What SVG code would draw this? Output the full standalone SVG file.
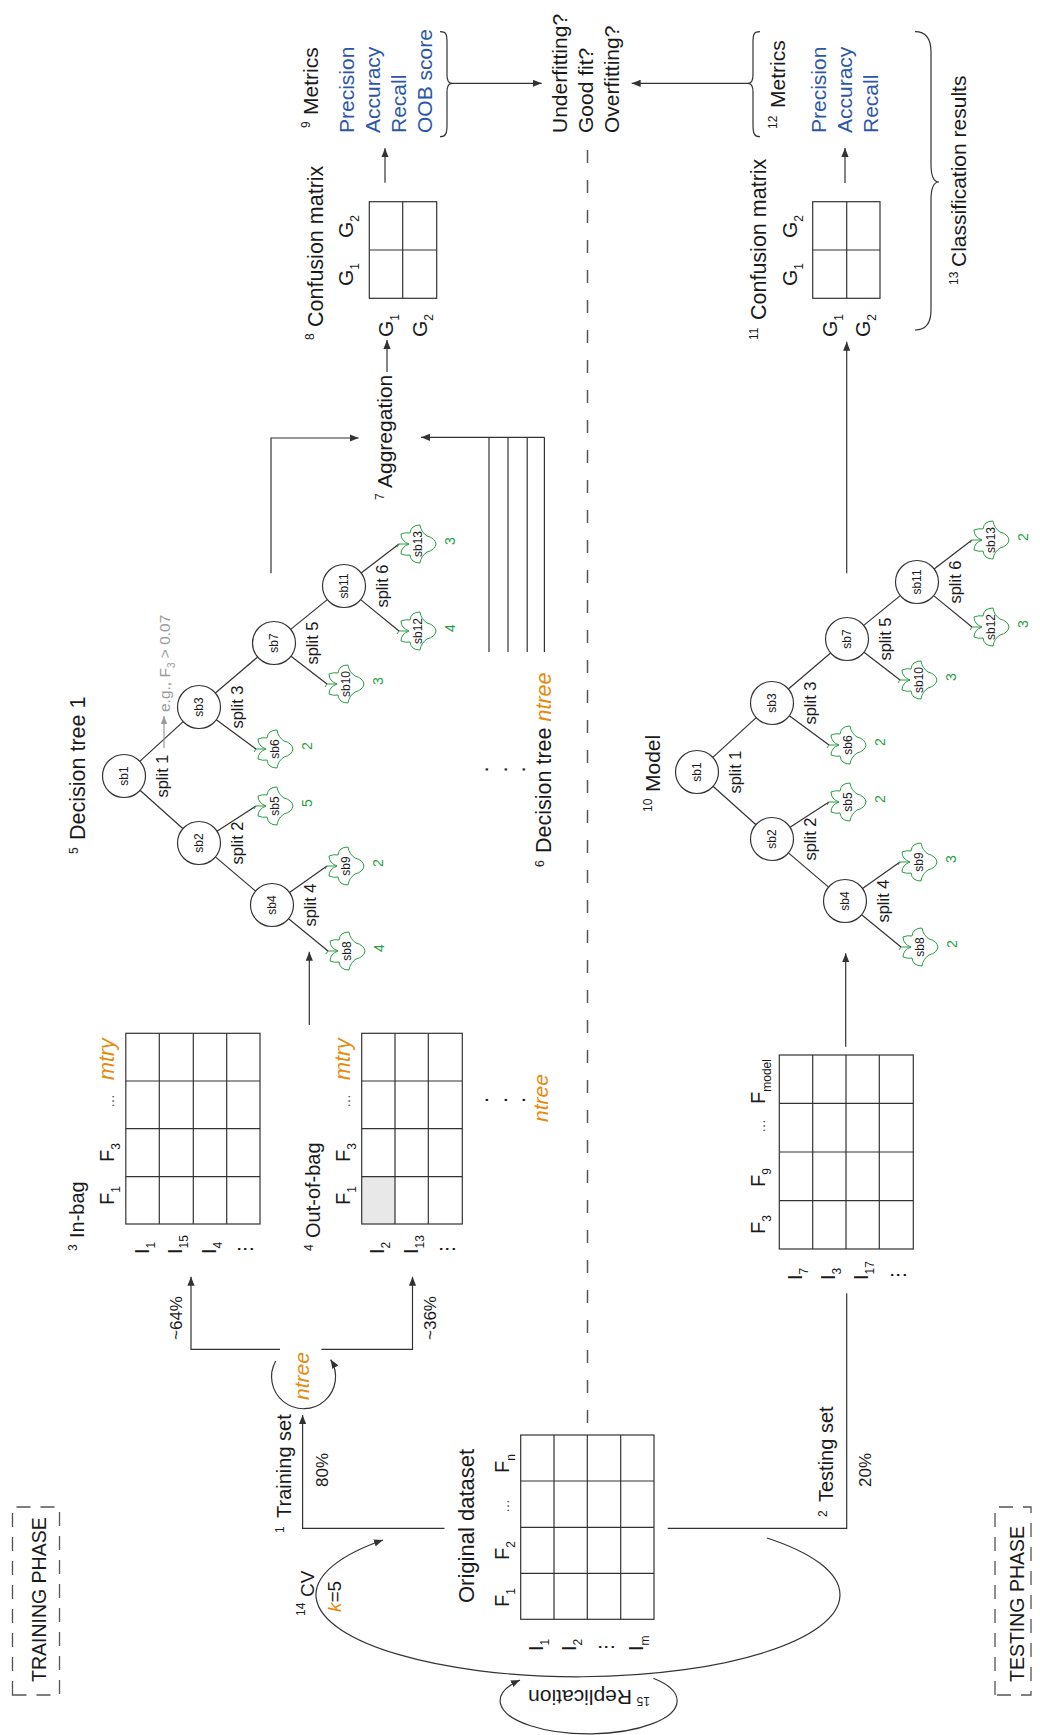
<svg xmlns="http://www.w3.org/2000/svg" width="1040" height="1735" viewBox="0 0 1040 1735">
<defs>
<style>
text { font-family: "Liberation Sans", Arial, "DejaVu Sans", sans-serif; fill: #1a1a1a; }
.f21 { font-size: 21px; }
.f20 { font-size: 20px; }
.f17 { font-size: 17px; }
.sp { font-size: 16.5px; text-anchor: middle; }
.sup { font-size: 12px; }
.sub { font-size: 12px; }
.sb { font-size: 12px; text-anchor: middle; }
.cnt { font-size: 14px; fill: #2a9d45; text-anchor: middle; }
.blue { fill: #2c56a8; }
.or { fill: #e68a0c; font-style: italic; }
.gray { fill: #9a9a9a; }
.ln { fill: none; stroke: #333; stroke-width: 1.2; }
.lng { fill: none; stroke: #9a9a9a; stroke-width: 1.2; }
.node { fill: #fff; stroke: #333; stroke-width: 1.2; }
.leaf { fill: #fff; stroke: #2a9d45; stroke-width: 1; stroke-linejoin: round; }
.grid { fill: none; stroke: #333; stroke-width: 1.2; }
.dash { fill: none; stroke: #555; stroke-width: 1.5; stroke-dasharray: 13 17; }
.box { fill: none; stroke: #555; stroke-width: 1.3; stroke-dasharray: 14 10; }
.dots { font-family: "DejaVu Sans", sans-serif; }
.el { font-size: 14px; fill: #555; }
.dot { font-size: 22px; text-anchor: middle; }
</style>
<marker id="ah" viewBox="0 0 10 8" refX="10" refY="4" markerWidth="9" markerHeight="7.2" markerUnits="userSpaceOnUse" orient="auto"><path d="M0,0 L10,4 L0,8 z" fill="#333"/></marker>
<marker id="ahg" viewBox="0 0 10 8" refX="10" refY="4" markerWidth="8" markerHeight="6.4" markerUnits="userSpaceOnUse" orient="auto"><path d="M0,0 L10,4 L0,8 z" fill="#9a9a9a"/></marker>
<path id="leaf" d="M0,-9 Q-3,-17 -10,-17 Q-12,-12 -11,-8 Q-19,-7 -19,2 Q-12,3 -8,9 Q-6,17 0,18 Q6,17 8,9 Q12,3 19,2 Q19,-7 11,-8 Q12,-12 10,-17 Q3,-17 0,-9 Z M0,-9 L0,-19 M0,-19 L-3,-21"/>
</defs>
<rect width="1040" height="1735" fill="#fff"/>
<g transform="translate(0,1735) rotate(-90)">

<g id="training-phase">
<rect x="40" y="12.5" width="188" height="47" class="box"/>
<text x="53" y="46" font-size="19.5">TRAINING PHASE</text>
</g>
<g id="testing-phase">
<rect x="40" y="995" width="188" height="36" class="box"/>
<text x="53" y="1024" font-size="19.5">TESTING PHASE</text>
</g>

<g id="original-dataset">
<text x="132" y="474" font-size="22">Original dataset</text>
<text class="f20" x="128" y="509">F<tspan class="sub" dy="6">1</tspan></text>
<text class="f20" x="175" y="509">F<tspan class="sub" dy="6">2</tspan></text>
<text class="el" x="222" y="509">…</text>
<text class="f20" x="262" y="509">F<tspan class="sub" dy="6">n</tspan></text>
<rect x="115.7" y="520.7" width="184.3" height="133.3" class="grid"/>
<path class="grid" d="M161.7,520.7 V654 M207.7,520.7 V654 M254,520.7 V654 M115.7,554 H300 M115.7,587.3 H300 M115.7,620.7 H300"/>
<text class="f20" x="84" y="543">I<tspan class="sub" dy="6">1</tspan></text>
<text class="f20" x="84" y="576">I<tspan class="sub" dy="6">2</tspan></text>
<text class="dots" font-size="18" x="88" y="611.5" text-anchor="middle">⋮</text>
<text class="f20" x="84" y="643">I<tspan class="sub" dy="6">m</tspan></text>
</g>

<g id="training-set">
<text class="sup" x="202" y="284">1</text>
<text class="f20" x="217" y="291">Training set</text>
<text class="f17" x="248" y="328">80%</text>
</g>
<g id="testing-set">
<text class="sup" x="218" y="827">2</text>
<text class="f20" x="233" y="833">Testing set</text>
<text class="f17" x="248" y="871">20%</text>
</g>

<g id="cv">
<text class="sup" x="119" y="305">14</text>
<text font-size="19" x="138" y="313.5">CV</text>
<text font-size="19" x="123" y="341"><tspan class="or">k</tspan>=5</text>
</g>

<g id="bootstrap">
<text class="or" font-size="21" x="335" y="309">ntree</text>
<text class="f17" x="395" y="182">~64%</text>
<text class="f17" x="395" y="436">~36%</text>
</g>

<g id="in-bag">
<text class="sup" x="484" y="77">3</text>
<text class="f20" x="497" y="84">In-bag</text>
<text class="f20" x="530" y="114">F<tspan class="sub" dy="6">1</tspan></text>
<text class="f20" x="573" y="114">F<tspan class="sub" dy="6">3</tspan></text>
<text class="el" x="627" y="114">…</text>
<text class="or" font-size="21.5" x="655" y="114">mtry</text>
<rect x="511" y="125.8" width="190.7" height="134.2" class="grid"/>
<path class="grid" d="M558.3,125.8 V260 M606.3,125.8 V260 M654,125.8 V260 M511,159.3 H701.7 M511,193.3 H701.7 M511,226.7 H701.7"/>
<text class="f20" x="481" y="148.5">I<tspan class="sub" dy="6">1</tspan></text>
<text class="f20" x="481" y="182">I<tspan class="sub" dy="6">15</tspan></text>
<text class="f20" x="481" y="215.5">I<tspan class="sub" dy="6">4</tspan></text>
<text class="dots" font-size="18" x="486" y="251" text-anchor="middle">⋮</text>
</g>

<g id="out-of-bag">
<text class="sup" x="484" y="313">4</text>
<text class="f20" x="497" y="320">Out-of-bag</text>
<text class="f20" x="530" y="350">F<tspan class="sub" dy="6">1</tspan></text>
<text class="f20" x="573" y="350">F<tspan class="sub" dy="6">3</tspan></text>
<text class="el" x="627" y="350">…</text>
<text class="or" font-size="21.5" x="655" y="350">mtry</text>
<rect x="511" y="361.7" width="47.3" height="33.3" fill="#e8e8e8"/>
<rect x="511" y="361.7" width="190.7" height="100.6" class="grid"/>
<path class="grid" d="M558.3,361.7 V462.3 M606.3,361.7 V462.3 M654,361.7 V462.3 M511,395 H701.7 M511,428.3 H701.7"/>
<text class="f20" x="481" y="384">I<tspan class="sub" dy="6">2</tspan></text>
<text class="f20" x="481" y="417.5">I<tspan class="sub" dy="6">13</tspan></text>
<text class="dots" font-size="18" x="486" y="453" text-anchor="middle">⋮</text>
</g>

<g id="more-samples">
<text class="dot" x="635" y="488">.</text>
<text class="dot" x="635" y="506.5">.</text>
<text class="dot" x="635" y="525">.</text>
<text class="or" font-size="21" x="613" y="548">ntree</text>
</g>

<g id="tree1">
<text class="sup" x="881" y="78">5</text>
<text font-size="21.5" x="895" y="85">Decision tree 1</text>
<g id="t1-edges" class="ln">
<path d="M944.7,140 L906.3,183 M973.6,139.8 L1013.4,183.2 M878.1,215.4 L843.9,255.6 M1042,215.4 L1078,257.6 M1105.6,290.7 L1135.4,327.3"/>
<path d="M903.7,217 L929,256 M1015.3,216.3 L986,256 M816.3,288.6 L784,328 M842.4,289.5 L869,327 M1078.8,291 L1051,327 M1135.4,360.6 L1104,399 M1162.1,361.1 L1191,399"/>
</g>
<g id="t1-sb1"><circle cx="959" cy="124" r="21.5" class="node"/><text class="sb" x="959" y="128">sb1</text></g>
<g id="t1-sb2"><circle cx="892" cy="199" r="21.5" class="node"/><text class="sb" x="892" y="203">sb2</text></g>
<g id="t1-sb3"><circle cx="1028" cy="199" r="21.5" class="node"/><text class="sb" x="1028" y="203">sb3</text></g>
<g id="t1-sb4"><circle cx="830" cy="272" r="21.5" class="node"/><text class="sb" x="830" y="276">sb4</text></g>
<g id="t1-sb7"><circle cx="1092" cy="274" r="21.5" class="node"/><text class="sb" x="1092" y="278">sb7</text></g>
<g id="t1-sb11"><circle cx="1149" cy="344" r="21.5" class="node"/><text class="sb" x="1149" y="348">sb11</text></g>
<g id="t1-sb5" transform="translate(929,275)"><use href="#leaf" class="leaf"/><text class="sb" y="4">sb5</text><text class="cnt" x="3" y="37">5</text></g>
<g id="t1-sb6" transform="translate(986,275)"><use href="#leaf" class="leaf"/><text class="sb" y="4">sb6</text><text class="cnt" x="3" y="37">2</text></g>
<g id="t1-sb8" transform="translate(784,347)"><use href="#leaf" class="leaf"/><text class="sb" y="4">sb8</text><text class="cnt" x="3" y="37">4</text></g>
<g id="t1-sb9" transform="translate(869,346)"><use href="#leaf" class="leaf"/><text class="sb" y="4">sb9</text><text class="cnt" x="3" y="37">2</text></g>
<g id="t1-sb10" transform="translate(1051,346)"><use href="#leaf" class="leaf"/><text class="sb" y="4">sb10</text><text class="cnt" x="3" y="37">3</text></g>
<g id="t1-sb12" transform="translate(1104,418)"><use href="#leaf" class="leaf"/><text class="sb" y="4">sb12</text><text class="cnt" x="3" y="37">4</text></g>
<g id="t1-sb13" transform="translate(1191,418)"><use href="#leaf" class="leaf"/><text class="sb" y="4">sb13</text><text class="cnt" x="3" y="37">3</text></g>
<g id="t1-splits">
<text class="sp" x="959" y="168">split 1</text>
<text class="sp" x="892" y="243">split 2</text>
<text class="sp" x="1028" y="243">split 3</text>
<text class="sp" x="830" y="316">split 4</text>
<text class="sp" x="1092" y="318">split 5</text>
<text class="sp" x="1149" y="388">split 6</text>
</g>
<g id="t1-example">
<path class="lng" d="M987,164 L1019,164" marker-end="url(#ahg)"/>
<text class="gray" font-size="15.5" x="1023" y="169.5">e.g., F<tspan font-size="10" dy="5">3</tspan><tspan dy="-5"> &gt; 0.07</tspan></text>
</g>
</g>

<g id="more-trees">
<text class="dot" x="965.7" y="488">.</text>
<text class="dot" x="965.7" y="506.5">.</text>
<text class="dot" x="965.7" y="525">.</text>
</g>
<g id="tree-ntree">
<text class="sup" x="868" y="544">6</text>
<text font-size="21.5" x="882" y="551">Decision tree <tspan class="or">ntree</tspan></text>
</g>

<g id="aggregation">
<text class="sup" x="1235" y="384">7</text>
<text class="f21" x="1247" y="391.5">Aggregation</text>
</g>

<g id="cm1">
<text class="sup" x="1395" y="314">8</text>
<text font-size="21.5" x="1408" y="322.5">Confusion matrix</text>
<text class="f21" x="1449" y="353">G<tspan class="sub" dy="6">1</tspan></text>
<text class="f21" x="1497" y="353">G<tspan class="sub" dy="6">2</tspan></text>
<text class="f21" x="1398" y="393">G<tspan class="sub" dy="6">1</tspan></text>
<text class="f21" x="1398" y="427">G<tspan class="sub" dy="6">2</tspan></text>
<rect x="1436.7" y="369.3" width="96.6" height="67.4" class="grid"/>
<path class="grid" d="M1485,369.3 V436.7 M1436.7,402.7 H1533.3"/>
</g>

<g id="metrics1">
<text class="sup" x="1607" y="310">9</text>
<text class="f21" x="1620" y="318">Metrics</text>
<text class="f21 blue" x="1602" y="354">Precision</text>
<text class="f21 blue" x="1602" y="380">Accuracy</text>
<text class="f21 blue" x="1602" y="406">Recall</text>
<text class="f21 blue" x="1602" y="432">OOB score</text>
<path class="ln" d="M1598.3,440 C1598.3,446 1602,447 1610,447 L1643,447 C1649,447 1651.7,449 1651.7,452 C1651.7,449 1654,447 1660,447 L1693,447 C1701,447 1703.3,446 1703.3,440"/>
</g>

<g id="fit">
<text class="f21" x="1602" y="567">Underfitting?</text>
<text class="f21" x="1602" y="593">Good fit?</text>
<text class="f21" x="1602" y="619">Overfitting?</text>
</g>

<g id="testing-table">
<text class="f20" x="501" y="765">F<tspan class="sub" dy="6">3</tspan></text>
<text class="f20" x="548" y="765">F<tspan class="sub" dy="6">9</tspan></text>
<text class="el" x="602" y="765">…</text>
<text class="f20" x="631" y="765">F<tspan class="sub" dy="6">model</tspan></text>
<rect x="486" y="779.3" width="194" height="134" class="grid"/>
<path class="grid" d="M534.3,779.3 V913.3 M583,779.3 V913.3 M631.7,779.3 V913.3 M486,812.7 H680 M486,846 H680 M486,879.3 H680"/>
<text class="f20" x="455" y="801.5">I<tspan class="sub" dy="6">7</tspan></text>
<text class="f20" x="455" y="835">I<tspan class="sub" dy="6">3</tspan></text>
<text class="f20" x="455" y="868.3">I<tspan class="sub" dy="6">17</tspan></text>
<text class="dots" font-size="18" x="460" y="904" text-anchor="middle">⋮</text>
</g>

<g id="model-label">
<text class="sup" x="923" y="652">10</text>
<text class="f21" x="943" y="660">Model</text>
</g>

<g id="model-tree" transform="translate(4,573)">
<g id="m-edges" class="ln">
<path d="M944.7,140 L906.3,183 M973.6,139.8 L1013.4,183.2 M878.1,215.4 L843.9,255.6 M1042,215.4 L1078,257.6 M1105.6,290.7 L1135.4,327.3"/>
<path d="M903.7,217 L929,256 M1015.3,216.3 L986,256 M816.3,288.6 L784,328 M842.4,289.5 L869,327 M1078.8,291 L1051,327 M1135.4,360.6 L1104,399 M1162.1,361.1 L1191,399"/>
</g>
<g id="m-sb1"><circle cx="959" cy="124" r="21.5" class="node"/><text class="sb" x="959" y="128">sb1</text></g>
<g id="m-sb2"><circle cx="892" cy="199" r="21.5" class="node"/><text class="sb" x="892" y="203">sb2</text></g>
<g id="m-sb3"><circle cx="1028" cy="199" r="21.5" class="node"/><text class="sb" x="1028" y="203">sb3</text></g>
<g id="m-sb4"><circle cx="830" cy="272" r="21.5" class="node"/><text class="sb" x="830" y="276">sb4</text></g>
<g id="m-sb7"><circle cx="1092" cy="274" r="21.5" class="node"/><text class="sb" x="1092" y="278">sb7</text></g>
<g id="m-sb11"><circle cx="1149" cy="344" r="21.5" class="node"/><text class="sb" x="1149" y="348">sb11</text></g>
<g id="m-sb5" transform="translate(929,275)"><use href="#leaf" class="leaf"/><text class="sb" y="4">sb5</text><text class="cnt" x="3" y="37">2</text></g>
<g id="m-sb6" transform="translate(986,275)"><use href="#leaf" class="leaf"/><text class="sb" y="4">sb6</text><text class="cnt" x="3" y="37">2</text></g>
<g id="m-sb8" transform="translate(784,347)"><use href="#leaf" class="leaf"/><text class="sb" y="4">sb8</text><text class="cnt" x="3" y="37">2</text></g>
<g id="m-sb9" transform="translate(869,346)"><use href="#leaf" class="leaf"/><text class="sb" y="4">sb9</text><text class="cnt" x="3" y="37">3</text></g>
<g id="m-sb10" transform="translate(1051,346)"><use href="#leaf" class="leaf"/><text class="sb" y="4">sb10</text><text class="cnt" x="3" y="37">3</text></g>
<g id="m-sb12" transform="translate(1104,418)"><use href="#leaf" class="leaf"/><text class="sb" y="4">sb12</text><text class="cnt" x="3" y="37">3</text></g>
<g id="m-sb13" transform="translate(1191,418)"><use href="#leaf" class="leaf"/><text class="sb" y="4">sb13</text><text class="cnt" x="3" y="37">2</text></g>
<g id="m-splits">
<text class="sp" x="959" y="168">split 1</text>
<text class="sp" x="892" y="243">split 2</text>
<text class="sp" x="1028" y="243">split 3</text>
<text class="sp" x="830" y="316">split 4</text>
<text class="sp" x="1092" y="318">split 5</text>
<text class="sp" x="1149" y="388">split 6</text>
</g>
</g>

<g id="cm2">
<text class="sup" x="1395" y="758">11</text>
<text font-size="21.5" x="1415" y="766">Confusion matrix</text>
<text class="f21" x="1449" y="797">G<tspan class="sub" dy="6">1</tspan></text>
<text class="f21" x="1497" y="797">G<tspan class="sub" dy="6">2</tspan></text>
<text class="f21" x="1398" y="837">G<tspan class="sub" dy="6">1</tspan></text>
<text class="f21" x="1398" y="870">G<tspan class="sub" dy="6">2</tspan></text>
<rect x="1436.7" y="812.7" width="96.6" height="67.3" class="grid"/>
<path class="grid" d="M1485,812.7 V880 M1436.7,846.7 H1533.3"/>
</g>

<g id="metrics2">
<path class="ln" d="M1598.3,760 C1598.3,754 1602,753 1610,753 L1643,753 C1649,753 1651.7,751 1651.7,748 C1651.7,751 1654,753 1660,753 L1693,753 C1701,753 1703.3,754 1703.3,760"/>
<text class="sup" x="1606" y="777">12</text>
<text class="f21" x="1627" y="785">Metrics</text>
<text class="f21 blue" x="1602" y="826">Precision</text>
<text class="f21 blue" x="1602" y="852">Accuracy</text>
<text class="f21 blue" x="1602" y="878">Recall</text>
</g>

<g id="classification-results">
<path class="ln" d="M1405,915 C1405,926 1412,931 1425,931 L1535,931 C1548,931 1553,934 1553,939 C1553,934 1558,931 1571,931 L1683,931 C1696,931 1703.3,926 1703.3,915"/>
<text class="sup" x="1450" y="958">13</text>
<text class="f21" x="1468" y="966">Classification results</text>
</g>

<g id="connectors" class="ln">
<path d="M312,587.5 L1588,587.5" class="dash"/>
<path d="M206.7,444.5 L206.7,302.6 L320,302.6" marker-end="url(#ah)"/>
<path d="M206.7,667.7 L206.7,846.7 L441.7,846.7"/>
<path d="M374,275.7 A32,32 0 1 0 375.4,330.6" marker-end="url(#ah)"/>
<path d="M385.7,280 L385.7,191 L458.3,191" marker-end="url(#ah)"/>
<path d="M385.7,321.4 L385.7,412.5 L458.3,412.5" marker-end="url(#ah)"/>
<path d="M710,309.3 L783.3,309.3" marker-end="url(#ah)"/>
<path d="M1161.7,271 L1297,271 L1297,358.6" marker-end="url(#ah)"/>
<path d="M1083,489 H1297.7 M1083,508 H1297.7 M1083,527.2 H1297.7 M1083,544.4 H1297.7"/>
<path d="M1297.7,544.4 L1297.7,421" marker-end="url(#ah)"/>
<path d="M1363,387 L1395,387" marker-end="url(#ah)"/>
<path d="M1552.3,385 L1586.7,385" marker-end="url(#ah)"/>
<path d="M1651.7,452 L1651.7,541.7" marker-end="url(#ah)"/>
<path d="M1651.7,748 L1651.7,631.7" marker-end="url(#ah)"/>
<path d="M1552,845 L1587,845" marker-end="url(#ah)"/>
<path d="M1161.7,846.7 L1393.3,846.7" marker-end="url(#ah)"/>
<path d="M688.3,845.7 L781.7,845.7" marker-end="url(#ah)"/>
<path d="M197,767 A82,262 0 1 1 195,383" marker-end="url(#ah)"/>
</g>
</g>

<g id="replication">
<path class="ln" d="M653.3,1678.3 A88.5,33 0 1 1 520,1680" marker-end="url(#ah)"/>
<text class="sup" transform="translate(650,1697) rotate(180)">15</text>
<text font-size="21" transform="translate(632,1690) rotate(180)">Replication</text>
</g>
</svg>
